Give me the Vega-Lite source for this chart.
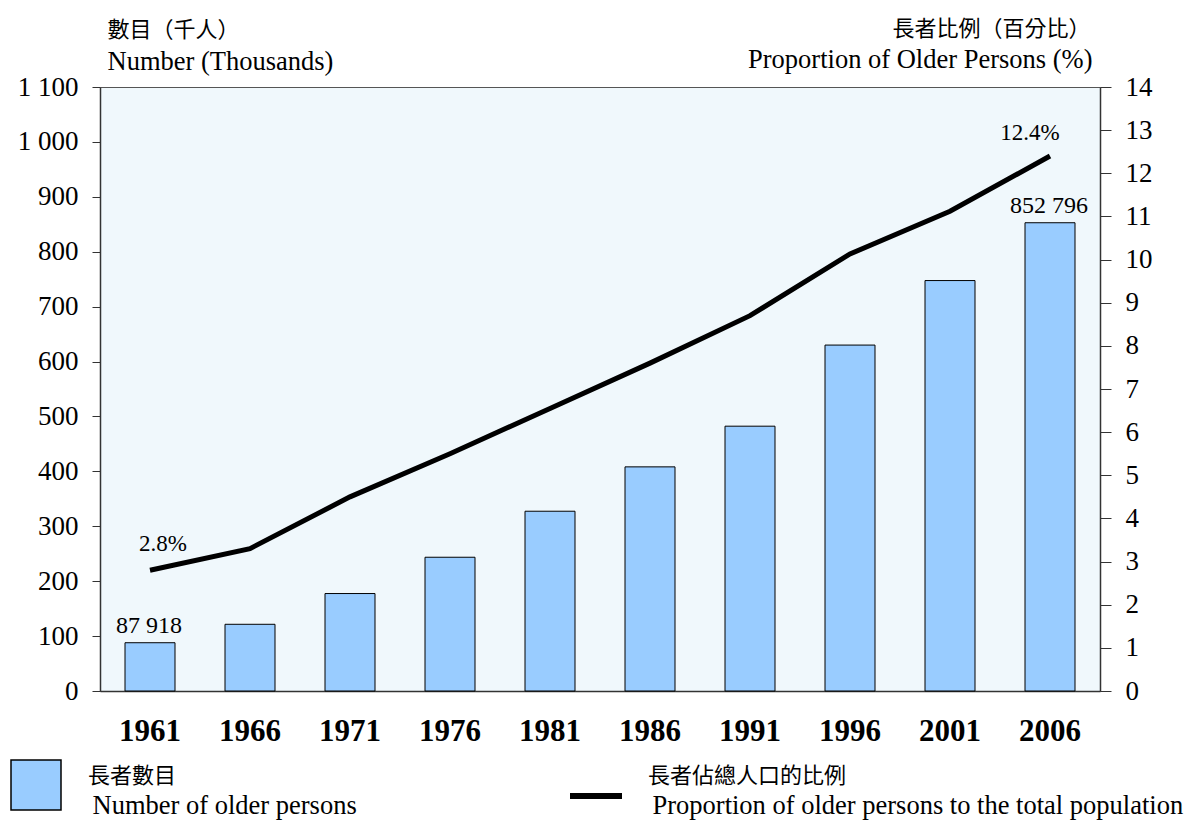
{
  "$schema": "https://vega.github.io/schema/vega-lite/v6.json",
  "width": 1000,
  "height": 604,
  "autosize": {"type": "none"},
  "padding": {"left": 100, "top": 87, "right": 88, "bottom": 134},
  "background": "white",
  "config": {
    "view": {"fill": "#f0f8fc", "stroke": "#555555", "strokeWidth": 1},
    "font": "Liberation Serif",
    "axis": {"grid": false},
    "legend": {"orient": "none", "title": null, "padding": 0, "labelLimit": 900, "labelColor": "#000000"}
  },
  "data": {
    "values": [
      {"year": "1961", "number": 87.918, "pct": 2.8, "numLabel": "87 918", "pctLabel": "2.8%"},
      {"year": "1966", "number": 121.5, "pct": 3.3, "numLabel": "", "pctLabel": ""},
      {"year": "1971", "number": 177.5, "pct": 4.5, "numLabel": "", "pctLabel": ""},
      {"year": "1976", "number": 243.6, "pct": 5.5, "numLabel": "", "pctLabel": ""},
      {"year": "1981", "number": 327.4, "pct": 6.55, "numLabel": "", "pctLabel": ""},
      {"year": "1986", "number": 408.2, "pct": 7.6, "numLabel": "", "pctLabel": ""},
      {"year": "1991", "number": 482.3, "pct": 8.7, "numLabel": "", "pctLabel": ""},
      {"year": "1996", "number": 630.0, "pct": 10.13, "numLabel": "", "pctLabel": ""},
      {"year": "2001", "number": 747.5, "pct": 11.12, "numLabel": "", "pctLabel": ""},
      {"year": "2006", "number": 852.796, "pct": 12.4, "numLabel": "852 796", "pctLabel": "12.4%"}
    ]
  },
  "encoding": {
    "x": {
      "field": "year",
      "type": "nominal",
      "sort": null,
      "scale": {"paddingInner": 0.5, "paddingOuter": 0.25},
      "axis": {
        "title": null,
        "labelAngle": 0,
        "labelFont": "Liberation Serif",
        "labelFontSize": 31,
        "labelFontWeight": "bold",
        "labelColor": "#000000",
        "ticks": false,
        "labelPadding": 25,
        "domainColor": "#333333",
        "domainWidth": 1.5
      }
    }
  },
  "layer": [
    {
      "mark": {"type": "bar", "stroke": "#000000", "strokeWidth": 1},
      "encoding": {
        "y": {
          "field": "number",
          "type": "quantitative",
          "scale": {"domain": [0, 1100], "nice": false},
          "axis": {
            "orient": "left",
            "values": [0, 100, 200, 300, 400, 500, 600, 700, 800, 900, 1000, 1100],
            "labelExpr": "replace(format(datum.value, ','), ',', ' ')",
            "labelFont": "Liberation Serif",
            "labelFontSize": 27,
            "labelColor": "#000000",
            "labelPadding": 14,
            "tickSize": 8,
            "tickColor": "#333333",
            "domainColor": "#333333",
            "domainWidth": 1.5,
            "title": "Number (Thousands)",
            "titleFont": "Liberation Serif",
            "titleFontSize": 26.5,
            "titleFontWeight": "normal",
            "titleColor": "#000000",
            "titleAngle": 0,
            "titleAlign": "left",
            "titleBaseline": "alphabetic",
            "titleX": 7,
            "titleY": -18
          }
        },
        "fill": {
          "datum": "bar-symbol",
          "scale": {"range": ["#99ccff"]},
          "legend": {
            "legendX": -90,
            "legendY": 672,
            "symbolType": "square",
            "symbolSize": 2500,
            "symbolStrokeColor": "#000000",
            "symbolStrokeWidth": 1.5,
            "labelExpr": "''",
            "labelFontSize": 1
          }
        }
      }
    },
    {
      "mark": {"type": "text", "font": "Liberation Serif", "fontSize": 24, "baseline": "alphabetic", "dy": -10, "dx": -1},
      "encoding": {
        "y": {
          "field": "number",
          "type": "quantitative",
          "scale": {"domain": [0, 1100], "nice": false},
          "axis": {
            "orient": "left",
            "labels": false,
            "ticks": false,
            "domain": false,
            "title": "數目（千人）",
            "titleFont": "Noto Sans CJK TC",
            "titleFontSize": 22,
            "titleFontWeight": "normal",
            "titleColor": "#000000",
            "titleAngle": 0,
            "titleAlign": "left",
            "titleBaseline": "middle",
            "titleX": 7,
            "titleY": -58
          }
        },
        "text": {"field": "numLabel"},
        "fill": {
          "datum": "Number of older persons",
          "scale": {"range": ["#000000"]},
          "legend": {
            "legendX": -34,
            "legendY": 706,
            "symbolSize": 1,
            "symbolOpacity": 0,
            "labelOffset": 0,
            "labelFont": "Liberation Serif",
            "labelFontSize": 26.5
          }
        },
        "stroke": {
          "datum": "長者數目",
          "scale": {"range": ["rgba(0,0,0,0)"]},
          "legend": {
            "legendX": -34,
            "legendY": 678,
            "symbolSize": 1,
            "symbolOpacity": 0,
            "labelOffset": 0,
            "labelFont": "Noto Sans CJK TC",
            "labelFontSize": 22
          }
        }
      }
    },
    {
      "mark": {"type": "line", "strokeWidth": 5},
      "encoding": {
        "y": {
          "field": "pct",
          "type": "quantitative",
          "scale": {"domain": [0, 14], "nice": false},
          "axis": {
            "orient": "right",
            "values": [0, 1, 2, 3, 4, 5, 6, 7, 8, 9, 10, 11, 12, 13, 14],
            "labelFont": "Liberation Serif",
            "labelFontSize": 27,
            "labelColor": "#000000",
            "labelPadding": 14,
            "tickSize": 11,
            "tickColor": "#333333",
            "domainColor": "#333333",
            "domainWidth": 1.5,
            "title": "Proportion of Older Persons (%)",
            "titleFont": "Liberation Serif",
            "titleFontSize": 26.5,
            "titleFontWeight": "normal",
            "titleColor": "#000000",
            "titleAngle": 0,
            "titleAlign": "right",
            "titleBaseline": "alphabetic",
            "titleX": -8,
            "titleY": -20
          }
        },
        "stroke": {
          "datum": "line-symbol",
          "scale": {"range": ["#000000"]},
          "legend": {
            "legendX": 467,
            "legendY": 680,
            "symbolType": "stroke",
            "symbolSize": 2704,
            "symbolStrokeWidth": 6,
            "labelExpr": "''",
            "labelFontSize": 1
          }
        }
      }
    },
    {
      "encoding": {
        "y": {
          "field": "pct",
          "type": "quantitative",
          "scale": {"domain": [0, 14], "nice": false},
          "axis": {
            "orient": "right",
            "labels": false,
            "ticks": false,
            "domain": false,
            "title": "長者比例（百分比）",
            "titleFont": "Noto Sans CJK TC",
            "titleFontSize": 22,
            "titleFontWeight": "normal",
            "titleColor": "#000000",
            "titleAngle": 0,
            "titleAlign": "right",
            "titleBaseline": "middle",
            "titleX": -10,
            "titleY": -59
          }
        },
        "text": {"field": "pctLabel"},
        "fill": {
          "datum": "Proportion of older persons to the total population",
          "scale": {"range": ["#000000"]},
          "legend": {
            "legendX": 526,
            "legendY": 706,
            "symbolSize": 1,
            "symbolOpacity": 0,
            "labelOffset": 0,
            "labelFont": "Liberation Serif",
            "labelFontSize": 26.5
          }
        },
        "stroke": {
          "datum": "長者佔總人口的比例",
          "scale": {"range": ["rgba(0,0,0,0)"]},
          "legend": {
            "legendX": 526,
            "legendY": 678,
            "symbolSize": 1,
            "symbolOpacity": 0,
            "labelOffset": 0,
            "labelFont": "Noto Sans CJK TC",
            "labelFontSize": 22
          }
        }
      },
      "layer": [
        {
          "transform": [{"filter": "datum.year == '1961'"}],
          "mark": {"type": "text", "font": "Liberation Serif", "fontSize": 23, "baseline": "alphabetic", "dy": -19, "dx": 13}
        },
        {
          "transform": [{"filter": "datum.year == '2006'"}],
          "mark": {"type": "text", "font": "Liberation Serif", "fontSize": 23, "baseline": "alphabetic", "dy": -16, "dx": -20}
        }
      ]
    }
  ],
  "resolve": {"scale": {"y": "independent", "fill": "independent", "stroke": "independent"}}
}
